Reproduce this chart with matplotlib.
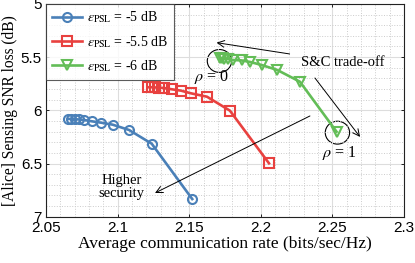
import matplotlib
matplotlib.use("Agg")
import matplotlib.pyplot as plt
from matplotlib.ticker import MultipleLocator
from matplotlib.patches import Ellipse

# ---- data ----
rate_5 = [2.0656, 2.0675, 2.0699, 2.0730, 2.0767, 2.0819, 2.0884, 2.0966, 2.1080, 2.1238, 2.1521]
loss_5 = [6.081, 6.081, 6.084, 6.086, 6.091, 6.103, 6.116, 6.135, 6.185, 6.314, 6.834]

rate_55 = [2.1214, 2.1238, 2.1261, 2.1291, 2.1324, 2.1377, 2.1442, 2.1512, 2.1624, 2.1784, 2.2057]
loss_55 = [5.783, 5.783, 5.785, 5.787, 5.790, 5.802, 5.815, 5.840, 5.872, 6.003, 6.498]

rate_6 = [2.1715, 2.1729, 2.1746, 2.1771, 2.1808, 2.1866, 2.1924, 2.2006, 2.2115, 2.2273, 2.2529]
loss_6 = [5.512, 5.512, 5.514, 5.517, 5.527, 5.531, 5.545, 5.574, 5.621, 5.731, 6.201]

labels = [r"$\epsilon_{\rm PSL}$ = -5 dB", r"$\epsilon_{\rm PSL}$ = -5.5 dB", r"$\epsilon_{\rm PSL}$ = -6 dB"]
colors = ["#4a80b8", "#e8413f", "#63bd57"]
markers = ["o", "s", "v"]

xticks = [2.05, 2.1, 2.15, 2.2, 2.25, 2.3]
xticklabels = ["2.05", "2.1", "2.15", "2.2", "2.25", "2.3"]
yticks = [5, 5.5, 6, 6.5, 7]
yticklabels = ["5", "5.5", "6", "6.5", "7"]

plt.rcParams["mathtext.fontset"] = "stix"
serif = "Liberation Serif"
sans = "Liberation Sans"

fig = plt.figure(figsize=(4.15, 2.63), dpi=100)
ax = fig.add_axes([0.111, 0.176, 0.8625, 0.809])

for xs, ys, c, m, lab in zip([rate_5, rate_55, rate_6], [loss_5, loss_55, loss_6], colors, markers, labels):
    ax.plot(xs, ys, color=c, marker=m, markersize=6.5, markerfacecolor="none",
            markeredgewidth=1.5, linewidth=1.9, label=lab)

ax.set_xlim(2.05, 2.3)
ax.set_ylim(7, 5)
ax.set_xticks(xticks)
ax.set_xticklabels(xticklabels, fontfamily=sans, fontsize=11)
ax.set_yticks(yticks)
ax.set_yticklabels(yticklabels, fontfamily=sans, fontsize=11)
ax.xaxis.set_minor_locator(MultipleLocator(0.01))
ax.yaxis.set_minor_locator(MultipleLocator(0.1))
ax.grid(which="major", color="#dddddd", linewidth=0.8)
ax.grid(which="minor", color="#cccccc", linestyle=":", linewidth=0.7)
ax.tick_params(which="both", direction="in", top=True, right=True, length=2.5, width=0.6)
ax.tick_params(which="minor", length=0)
ax.tick_params(axis="x", pad=3)
ax.tick_params(axis="y", pad=3)
for s in ax.spines.values():
    s.set_linewidth(0.8)
    s.set_color("#222222")

ax.set_xlabel("Average communication rate (bits/sec/Hz)", fontfamily=serif, fontsize=12.5, labelpad=1)
ax.set_ylabel("[Alice] Sensing SNR loss (dB)", fontfamily=serif, fontsize=11.2, labelpad=2)

leg = ax.legend(loc="upper left", prop={"family": serif, "size": 10}, frameon=True, fancybox=False,
                borderaxespad=0, handlelength=2.2, handletextpad=0.35, borderpad=0.4, labelspacing=0.62)
leg.get_frame().set_edgecolor("#333333")
leg.get_frame().set_linewidth(0.8)

# annotations
ax.add_patch(Ellipse((2.1711, 5.536), 0.017, 0.215, fill=False, edgecolor="black", linewidth=0.8))
ax.add_patch(Ellipse((2.2535, 6.21), 0.017, 0.215, fill=False, edgecolor="black", linewidth=0.8))
ax.text(2.1658, 5.685, r"$\rho$ = 0", fontfamily=serif, fontsize=11.5, ha="center", va="center")
ax.text(2.2549, 6.40, r"$\rho$ = 1", fontfamily=serif, fontsize=11.5, ha="center", va="center")
ax.text(2.2574, 5.555, "S&C trade-off", fontfamily=serif, fontsize=10.5, ha="center", va="center")
ax.text(2.1029, 6.72, "Higher\nsecurity", fontfamily=serif, fontsize=10.5, ha="center", va="center",
        linespacing=1.0)
arrow = dict(arrowstyle="->", color="black", linewidth=0.7, shrinkA=0, shrinkB=0, mutation_scale=12)
ax.annotate("", xy=(2.1691, 5.364), xytext=(2.2201, 5.470), arrowprops=arrow)
ax.annotate("", xy=(2.2693, 6.25), xytext=(2.2378, 5.696), arrowprops=arrow)
ax.annotate("", xy=(2.1261, 6.777), xytext=(2.2343, 6.053), arrowprops=arrow)

fig.savefig("out.png", dpi=100)
